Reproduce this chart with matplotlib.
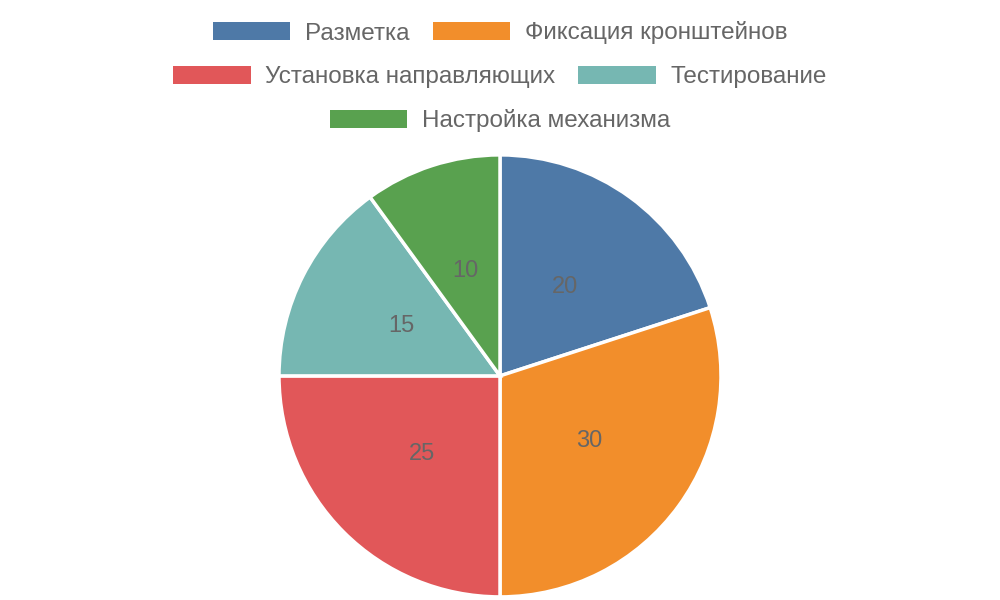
import matplotlib.pyplot as plt

plt.rcParams['font.family'] = ['Liberation Sans', 'DejaVu Sans']

labels = ["Разметка", "Фиксация кронштейнов", "Установка направляющих",
          "Тестирование", "Настройка механизма"]
values = [20, 30, 25, 15, 10]
colors = ["#4e79a7", "#f28e2b", "#e15759", "#76b7b2", "#59a14f"]

fig = plt.figure(figsize=(10, 6), dpi=100)
ax = fig.add_axes([0.279, 0.005, 0.442, 0.737])

wedges, texts = ax.pie(values, colors=colors, startangle=90, counterclock=False,
                       labels=[str(v) for v in values], labeldistance=0.5,
                       wedgeprops=dict(edgecolor="white", linewidth=2.5),
                       textprops=dict(color="#666666", fontsize=17))
for t in texts:
    t.set_ha("center")
    t.set_va("center")
ax.set_xlim(-1, 1)
ax.set_ylim(-1, 1)
ax.set_aspect("equal")

# legend rows centered like the reference
rows = [[0, 1], [2, 3], [4]]
row_y = [1 - 33 / 600, 1 - 77 / 600, 1 - 121 / 600]
for idx, y in zip(rows, row_y):
    leg = fig.legend([wedges[i] for i in idx], [labels[i] for i in idx],
                     loc="center", bbox_to_anchor=(0.5, y), ncol=len(idx),
                     frameon=False, fontsize=17.5, handlelength=3.2,
                     handleheight=0.76, handletextpad=0.6, columnspacing=0.95,
                     borderpad=0, borderaxespad=0)
    for t in leg.get_texts():
        t.set_color("#666666")
    for h in leg.legend_handles:
        h.set_edgecolor("none")

fig.savefig("out.png", dpi=100)
